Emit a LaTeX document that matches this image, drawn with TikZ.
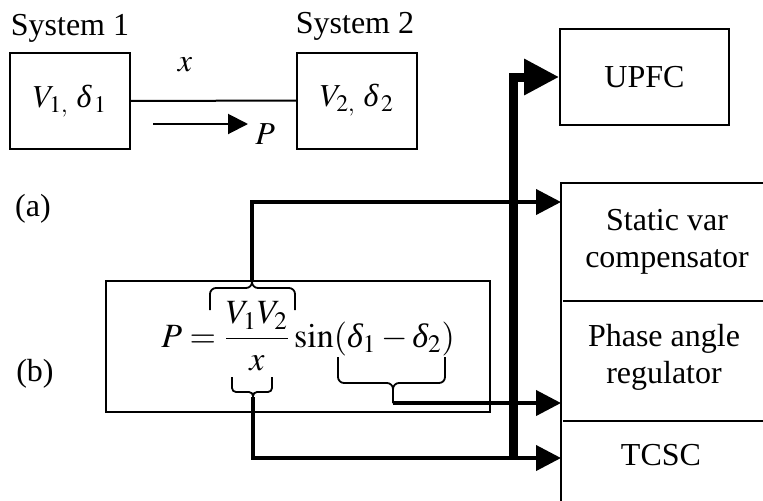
\documentclass[tikz,border=0pt]{standalone}
\usepackage{mathptmx}
\usepackage[no-math]{fontspec}
\setmainfont{Liberation Serif}
\usetikzlibrary{arrows.meta}
\newcommand{\dlt}{\textit{δ}}
\begin{document}
\begin{tikzpicture}[x=0.5pt, y=0.5pt, font=\fontsize{16}{18.5}\selectfont,
  sysbox/.style={draw, line width=1pt, minimum width=60pt, minimum height=48pt, inner sep=0pt},
  curly/.style={line width=0.9pt, rounded corners=3pt},
  feed/.style={line width=2pt, -{Triangle[length=12.5pt, width=12.5pt]}},
  bus/.style={line width=4.5pt, -{Triangle[length=17.5pt, width=17pt]}}]
\useasboundingbox (0,0) rectangle (763,500);
\clip (0,0) rectangle (763,500);
% (a) two systems and the line
\node[sysbox] (s1) at (70,399) {$V_{1,}\ \dlt_{\,1}$};
\node[sysbox] (s2) at (357,399.5) {$V_{2,}\ \dlt_{\,2}$};
\node[anchor=base] (s1lbl) at (70,465) {System 1};
\node[anchor=base] (s2lbl) at (355,467) {System 2};
\draw[line width=1pt] (s1) -- (s2);
\node[anchor=base] (xlbl) at (185,429) {$x$};
\coordinate (pfrom) at (153,376);
\coordinate (pto) at (248,376);
\draw[line width=1pt, -{Triangle[length=10pt, width=10pt]}] (pfrom) -- (pto);
\node[anchor=base west, inner sep=0pt] (plbl) at (255,356) {$P$};
\node[anchor=base] (lbla) at (33,284) {(a)};
\node[anchor=base] (lblb) at (35,119) {(b)};
% (b) power flow equation
\draw[line width=0.8pt] (106,88) rectangle (490,219);
\node[anchor=base west, inner sep=0pt, font=\fontsize{17}{21}\selectfont] (eq) at (161,153)
  {$\displaystyle P=\frac{V_1V_2}{x}\sin(\dlt_1-\dlt_2)$};
\coordinate (tipnum) at (252,218);
\coordinate (tipden) at (253,103);
\coordinate (tiparg) at (393,97);
\draw[curly] (210,190) |- (252,212) -- (tipnum);
\draw[curly] (295,190) |- (252,212) -- (tipnum);
\draw[curly, rounded corners=2pt] (232,123) |- (253,108) -- (tipden);
\draw[curly, rounded corners=2pt] (272,123) |- (253,108) -- (tipden);
\draw[curly] (338,143) |- (393,117) -- (tiparg);
\draw[curly] (445,143) |- (393,117) -- (tiparg);
% FACTS devices
\node[draw, line width=0.8pt, minimum width=84.5pt, minimum height=48pt] (upfc) at (644.5,423) {UPFC};
\draw[line width=0.8pt] (770,317) -- (561,317) -- (561,-10);
\draw[line width=0.8pt] (563,199) -- (770,199);
\draw[line width=0.8pt] (563,79) -- (770,79);
\node[align=center] (svc) at (667,258.5) {Static var\\compensator};
\node[align=center] (par) at (664,142.5) {Phase angle\\regulator};
\node[anchor=base] (tcsc) at (661,35) {TCSC};
\coordinate (svcin) at (561,298);
\coordinate (parin) at (561,97);
\coordinate (tcscin) at (561,42);
\coordinate (busfoot) at (513,42);
\draw[feed] (tipnum) |- (svcin);
\draw[feed] (tiparg) -- (parin);
\draw[feed] (tipden) |- (tcscin);
\draw[bus] (busfoot) |- (upfc.west);
\end{tikzpicture}
\end{document}
